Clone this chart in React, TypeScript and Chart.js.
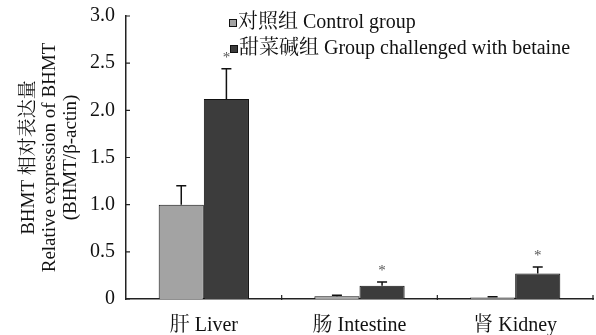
import React, { useEffect, useRef } from "react";
import { Chart, registerables } from "chart.js";

Chart.register(...registerables);

const categories = ["肝 Liver", "肠 Intestine", "肾 Kidney"];
const controlLabel = "对照组 Control group";
const betaineLabel = "甜菜碱组 Group challenged with betaine";
const controlValues = [1.0, 0.03, 0.015];
const controlErrors = [0.2, 0.01, 0.01];
const betaineValues = [2.12, 0.14, 0.27];
const betaineErrors = [0.32, 0.04, 0.07];
const betaineSignificant = [true, true, true];
const yTicks = [0, 0.5, 1.0, 1.5, 2.0, 2.5, 3.0];
const yTitle = ["BHMT 相对表达量", "Relative expression of BHMT", "(BHMT/β-actin)"];

const FONT = "'Liberation Serif', 'Times New Roman', 'Noto Serif CJK SC', 'Noto Sans CJK SC', serif";
const CONTROL_COLOR = "#a3a3a3";
const BETAINE_COLOR = "#3c3c3c";

const errorPlugin = {
  id: "errorBarsEtc",
  afterDatasetsDraw(chart: any) {
    const ctx = chart.ctx;
    const yScale = chart.scales.y;
    const xScale = chart.scales.x;
    const area = chart.chartArea;
    const errs = [controlErrors, betaineErrors];
    const sigs = [null, betaineSignificant];
    ctx.save();
    chart.data.datasets.forEach((ds: any, di: number) => {
      const meta = chart.getDatasetMeta(di);
      meta.data.forEach((bar: any, i: number) => {
        const v = ds.data[i];
        const top = yScale.getPixelForValue(v + errs[di][i]);
        const base = yScale.getPixelForValue(v);
        ctx.strokeStyle = "#111";
        ctx.lineWidth = 1.5;
        ctx.beginPath();
        ctx.moveTo(bar.x, base);
        ctx.lineTo(bar.x, top);
        ctx.moveTo(bar.x - 5, top);
        ctx.lineTo(bar.x + 5, top);
        ctx.stroke();
        const s = sigs[di];
        if (s && s[i]) {
          ctx.fillStyle = "#555";
          ctx.font = `15px ${FONT}`;
          ctx.textAlign = "center";
          ctx.textBaseline = "middle";
          ctx.fillText("*", bar.x, top - 11);
        }
      });
    });
    // axis tick marks
    ctx.strokeStyle = "#222";
    ctx.lineWidth = 1.2;
    ctx.beginPath();
    yScale.ticks.forEach((t: any) => {
      const py = yScale.getPixelForValue(t.value);
      ctx.moveTo(area.left, py);
      ctx.lineTo(area.left + 4, py);
    });
    for (let i = 1; i <= categories.length; i++) {
      const px = (xScale.getPixelForValue(i - 1) + xScale.getPixelForValue(i)) / 2;
      const pxx = i === categories.length ? area.right : px;
      ctx.moveTo(pxx, area.bottom - 4);
      ctx.lineTo(pxx, area.bottom + 1);
    }
    ctx.stroke();
    // legend
    const items = [
      { label: controlLabel, color: CONTROL_COLOR, x: 229, y: 23 },
      { label: betaineLabel, color: BETAINE_COLOR, x: 230, y: 49 },
    ];
    ctx.font = `20px ${FONT}`;
    ctx.textAlign = "left";
    ctx.textBaseline = "middle";
    items.forEach((it) => {
      ctx.fillStyle = it.color;
      ctx.fillRect(it.x, it.y - 4, 8, 8);
      ctx.strokeStyle = "#111";
      ctx.lineWidth = 1;
      ctx.strokeRect(it.x + 0.5, it.y - 3.5, 7, 7);
      ctx.fillStyle = "#111";
      ctx.fillText(it.label, it.x + 9, it.y);
    });
    ctx.restore();
  },
};

export default function App() {
  const ref = useRef<HTMLCanvasElement>(null);
  useEffect(() => {
    if (!ref.current) return;
    const chart = new Chart(ref.current, {
      type: "bar",
      data: {
        labels: categories,
        datasets: [
          {
            label: controlLabel,
            data: controlValues,
            backgroundColor: CONTROL_COLOR,
            borderColor: "#111",
            borderWidth: 1,
          },
          {
            label: betaineLabel,
            data: betaineValues,
            backgroundColor: BETAINE_COLOR,
            borderColor: "#111",
            borderWidth: 1,
          },
        ],
      },
      options: {
        animation: false,
        responsive: false,
        maintainAspectRatio: false,
        layout: { padding: { top: 16, right: 3, left: 0, bottom: 0 } },
        datasets: { bar: { barPercentage: 1, categoryPercentage: 0.58 } },
        plugins: { legend: { display: false }, tooltip: { enabled: false } },
        scales: {
          x: {
            grid: { display: false, drawTicks: false },
            border: { display: true, color: "#222", width: 1.5 },
            ticks: { color: "#111", font: { family: FONT, size: 20 }, padding: 15 },
            afterFit: (s: any) => { s.height = 36; s.paddingLeft = 0; s.paddingRight = 0; },
          },
          y: {
            min: 0,
            max: 3,
            grid: { display: false, drawTicks: false },
            border: { display: true, color: "#222", width: 1.5 },
            afterBuildTicks: (s: any) => { s.ticks = yTicks.map((v) => ({ value: v })); },
            ticks: {
              color: "#111",
              font: { family: FONT, size: 20 },
              padding: 11,
              callback: (v: any) => (Number(v) === 0 ? "0" : Number(v).toFixed(1)),
            },
            title: {
              display: true,
              text: yTitle,
              color: "#111",
              font: { family: FONT, size: 19, lineHeight: 1.1 },
              padding: { top: 19, bottom: 0 },
            },
            afterFit: (s: any) => { s.width = 126; s.paddingTop = 0; s.paddingBottom = 0; },
          },
        },
      },
      plugins: [errorPlugin],
    });
    return () => chart.destroy();
  }, []);
  return (
    <div style={{ position: "fixed", left: 0, top: 0, width: 596, height: 335, background: "#fff" }}>
      <canvas ref={ref} width={596} height={335} />
    </div>
  );
}
